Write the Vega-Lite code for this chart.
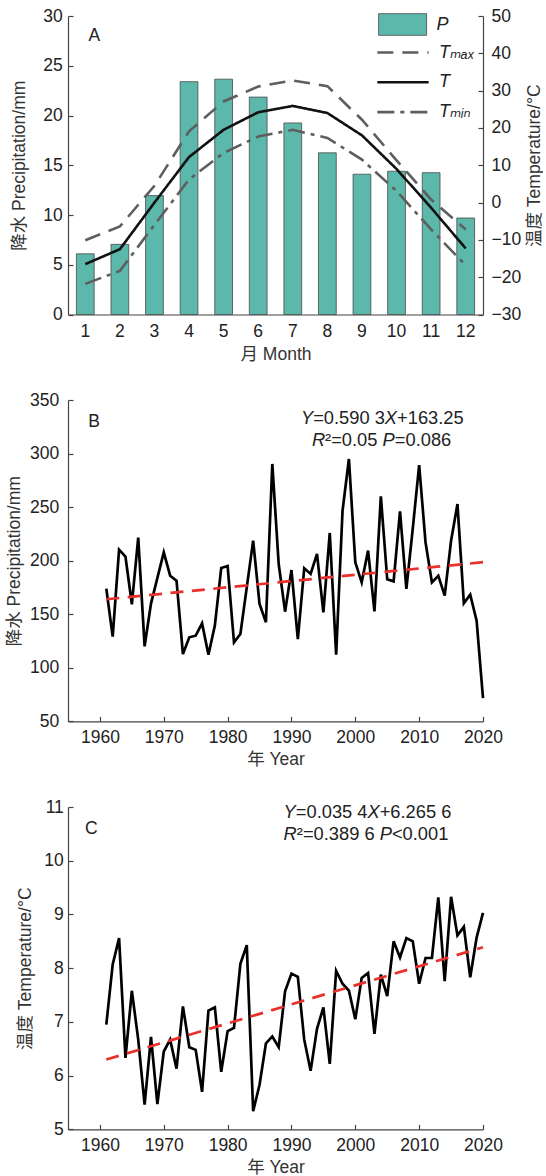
{
  "$schema": "https://vega.github.io/schema/vega-lite/v6.json",
  "padding": {"left": 5, "top": 7, "right": 0, "bottom": 0},
  "background": "white",
  "config": {
    "font": "Liberation Sans, DejaVu Sans, Noto Sans CJK SC, sans-serif",
    "view": {"stroke": null},
    "axis": {
      "grid": false,
      "domainColor": "#444444",
      "domainWidth": 1.2,
      "tickColor": "#444444",
      "tickWidth": 1.2,
      "tickSize": -5,
      "labelColor": "#222222",
      "labelFontSize": 17.5,
      "titleFontSize": 17.5,
      "titleFontWeight": "normal",
      "titleColor": "#333333",
      "labelFont": "Liberation Sans, DejaVu Sans, sans-serif",
      "titleFont": "Liberation Sans, Noto Sans CJK SC, sans-serif"
    },
    "text": {"font": "Liberation Sans, DejaVu Sans, sans-serif", "color": "#222222", "align": "left", "fontSize": 18.3}
  },
  "datasets": {
    "monthly": [
      {"month": 1, "P": 6.1}, {"month": 2, "P": 7.05}, {"month": 3, "P": 11.95},
      {"month": 4, "P": 23.4}, {"month": 5, "P": 23.65}, {"month": 6, "P": 21.85},
      {"month": 7, "P": 19.25}, {"month": 8, "P": 16.25}, {"month": 9, "P": 14.1},
      {"month": 10, "P": 14.4}, {"month": 11, "P": 14.25}, {"month": 12, "P": 9.7}
    ],
    "monthlyT": [
      {"month": 1, "series": "Tmax", "temp": -10.1}, {"month": 2, "series": "Tmax", "temp": -6.4},
      {"month": 3, "series": "Tmax", "temp": 4.5}, {"month": 4, "series": "Tmax", "temp": 19.1},
      {"month": 5, "series": "Tmax", "temp": 27.1}, {"month": 6, "series": "Tmax", "temp": 31.1},
      {"month": 7, "series": "Tmax", "temp": 32.7}, {"month": 8, "series": "Tmax", "temp": 31.2},
      {"month": 9, "series": "Tmax", "temp": 22.2}, {"month": 10, "series": "Tmax", "temp": 11.3},
      {"month": 11, "series": "Tmax", "temp": 0.8}, {"month": 12, "series": "Tmax", "temp": -7.2},
      {"month": 1, "series": "T", "temp": -16.5}, {"month": 2, "series": "T", "temp": -12.5},
      {"month": 3, "series": "T", "temp": 0.0}, {"month": 4, "series": "T", "temp": 12.2},
      {"month": 5, "series": "T", "temp": 19.5}, {"month": 6, "series": "T", "temp": 24.2},
      {"month": 7, "series": "T", "temp": 25.9}, {"month": 8, "series": "T", "temp": 24.0},
      {"month": 9, "series": "T", "temp": 18.0}, {"month": 10, "series": "T", "temp": 9.0},
      {"month": 11, "series": "T", "temp": -1.4}, {"month": 12, "series": "T", "temp": -12.3},
      {"month": 1, "series": "Tmin", "temp": -21.8}, {"month": 2, "series": "Tmin", "temp": -18.3},
      {"month": 3, "series": "Tmin", "temp": -6.0}, {"month": 4, "series": "Tmin", "temp": 6.2},
      {"month": 5, "series": "Tmin", "temp": 13.3}, {"month": 6, "series": "Tmin", "temp": 17.7},
      {"month": 7, "series": "Tmin", "temp": 19.5}, {"month": 8, "series": "Tmin", "temp": 17.3},
      {"month": 9, "series": "Tmin", "temp": 11.5}, {"month": 10, "series": "Tmin", "temp": 3.1},
      {"month": 11, "series": "Tmin", "temp": -7.2}, {"month": 12, "series": "Tmin", "temp": -16.8}
    ],
    "annual": [
      {"year": 1961, "P": 173.9, "T": 6.95}, {"year": 1962, "P": 129.1, "T": 8.07},
      {"year": 1963, "P": 210.3, "T": 8.56}, {"year": 1964, "P": 203.8, "T": 6.33},
      {"year": 1965, "P": 159.3, "T": 7.58}, {"year": 1966, "P": 221.5, "T": 6.67},
      {"year": 1967, "P": 120.1, "T": 5.46}, {"year": 1968, "P": 160.0, "T": 6.72},
      {"year": 1969, "P": 184.0, "T": 5.47}, {"year": 1970, "P": 207.8, "T": 6.45},
      {"year": 1971, "P": 186.0, "T": 6.67}, {"year": 1972, "P": 181.4, "T": 6.13},
      {"year": 1973, "P": 112.9, "T": 7.29}, {"year": 1974, "P": 128.5, "T": 6.53},
      {"year": 1975, "P": 130.0, "T": 6.48}, {"year": 1976, "P": 141.5, "T": 5.70},
      {"year": 1977, "P": 112.3, "T": 7.21}, {"year": 1978, "P": 139.4, "T": 7.27},
      {"year": 1979, "P": 193.2, "T": 6.07}, {"year": 1980, "P": 195.0, "T": 6.83},
      {"year": 1981, "P": 123.8, "T": 6.89}, {"year": 1982, "P": 131.6, "T": 8.08},
      {"year": 1983, "P": 175.1, "T": 8.43}, {"year": 1984, "P": 218.7, "T": 5.34},
      {"year": 1985, "P": 159.6, "T": 5.83}, {"year": 1986, "P": 142.5, "T": 6.60},
      {"year": 1987, "P": 290.3, "T": 6.73}, {"year": 1988, "P": 196.9, "T": 6.53},
      {"year": 1989, "P": 152.4, "T": 7.57}, {"year": 1990, "P": 191.3, "T": 7.90},
      {"year": 1991, "P": 126.9, "T": 7.84}, {"year": 1992, "P": 192.9, "T": 6.67},
      {"year": 1993, "P": 187.6, "T": 6.09}, {"year": 1994, "P": 206.3, "T": 6.87},
      {"year": 1995, "P": 151.8, "T": 7.27}, {"year": 1996, "P": 225.9, "T": 6.22},
      {"year": 1997, "P": 112.3, "T": 7.95}, {"year": 1998, "P": 246.7, "T": 7.71},
      {"year": 1999, "P": 294.9, "T": 7.58}, {"year": 2000, "P": 198.5, "T": 7.05},
      {"year": 2001, "P": 179.8, "T": 7.82}, {"year": 2002, "P": 209.4, "T": 7.91},
      {"year": 2003, "P": 152.7, "T": 6.78}, {"year": 2004, "P": 260.1, "T": 7.88},
      {"year": 2005, "P": 182.6, "T": 7.48}, {"year": 2006, "P": 180.7, "T": 8.50},
      {"year": 2007, "P": 246.1, "T": 8.20}, {"year": 2008, "P": 173.6, "T": 8.56},
      {"year": 2009, "P": 230.0, "T": 8.50}, {"year": 2010, "P": 289.3, "T": 7.71},
      {"year": 2011, "P": 217.1, "T": 8.19}, {"year": 2012, "P": 179.8, "T": 8.19},
      {"year": 2013, "P": 186.0, "T": 9.32}, {"year": 2014, "P": 167.4, "T": 7.76},
      {"year": 2015, "P": 218.7, "T": 9.33}, {"year": 2016, "P": 252.9, "T": 8.61},
      {"year": 2017, "P": 160.2, "T": 8.77}, {"year": 2018, "P": 168.3, "T": 7.83},
      {"year": 2019, "P": 144.0, "T": 8.57}, {"year": 2020, "P": 71.8, "T": 9.03}
    ],
    "trend": [
      {"year": 1961, "P": 164.0, "T": 6.30},
      {"year": 2020, "P": 198.6, "T": 8.39}
    ]
  },
  "spacing": 85,
  "bounds": "flush",
  "vconcat": [
    {
      "width": 415,
      "height": 298.5,
      "layer": [
        {
          "data": {"name": "monthly"},
          "mark": {"type": "bar", "stroke": "#4a4a4a", "strokeWidth": 0.8},
          "encoding": {
            "x": {
              "field": "month", "type": "ordinal",
              "scale": {"paddingInner": 0.486, "paddingOuter": 0.243},
              "axis": {"title": "月 Month", "labelAngle": 0, "ticks": false, "labelPadding": 7.8, "titleY": 31}
            },
            "y": {
              "field": "P", "type": "quantitative",
              "scale": {"domain": [0, 30], "nice": false},
              "axis": {"title": "降水 Precipitation/mm", "values": [0, 5, 10, 15, 20, 25, 30], "labelPadding": 10.7, "titleX": -39.6}
            },
            "fill": {
              "datum": "P", "type": "nominal",
              "scale": {"range": ["#5bb8ab"]},
              "legend": {
                "orient": "none", "legendX": 325.6, "legendY": -0.5, "title": null, "padding": 0,
                "symbolType": "M-4.8,-2.17H4.8V2.17H-4.8Z", "symbolSize": 100,
                "symbolStrokeColor": "#4a4a4a", "symbolStrokeWidth": 0.8, "symbolOpacity": 1,
                "labelOffset": 25, "labelFontSize": 18, "labelFontStyle": "italic", "labelColor": "#222222",
                "labelFont": "Liberation Sans, DejaVu Sans, sans-serif"
              }
            }
          }
        },
        {
          "data": {"name": "monthlyT"},
          "mark": {"type": "line", "strokeWidth": 2.6},
          "encoding": {
            "x": {"field": "month", "type": "ordinal"},
            "y": {
              "field": "temp", "type": "quantitative",
              "scale": {"domain": [-30, 50], "nice": false},
              "axis": {"orient": "right", "title": "温度 Temperature/°C", "values": [-30, -20, -10, 0, 10, 20, 30, 40, 50], "labelPadding": 13, "titleAngle": -90, "titleBaseline": "top", "titleX": 42.5}
            },
            "stroke": {
              "field": "series", "type": "nominal",
              "scale": {"domain": ["Tmax", "T", "Tmin"], "range": ["#5e5e5e", "#111111", "#5e5e5e"]},
              "legend": {
                "orient": "none", "legendX": 326, "legendY": 27.5, "title": null, "padding": 0,
                "symbolType": "M-5.13,0H5.13", "symbolSize": 100, "symbolStrokeWidth": 2.6,
                "labelOffset": 27, "labelFontSize": 18, "labelFontStyle": "italic", "labelColor": "#222222",
                "labelFont": "Liberation Sans, DejaVu Sans, sans-serif", "rowPadding": 11.8,
                "labelExpr": "datum.value == 'Tmax' ? 'Tₘₐₓ' : datum.value == 'Tmin' ? 'Tₘᵢₙ' : datum.value"
              }
            },
            "strokeDash": {
              "field": "series", "type": "nominal",
              "scale": {"domain": ["Tmax", "T", "Tmin"], "range": [[16, 9], [1, 0], [17, 6, 4, 6]]},
              "legend": {
                "orient": "none", "legendX": 326, "legendY": 27.5, "title": null, "padding": 0,
                "symbolType": "M-5.13,0H5.13", "symbolSize": 100, "symbolStrokeWidth": 2.6,
                "labelOffset": 27, "labelFontSize": 18, "labelFontStyle": "italic", "labelColor": "#222222",
                "labelFont": "Liberation Sans, DejaVu Sans, sans-serif", "rowPadding": 11.8,
                "labelExpr": "datum.value == 'Tmax' ? 'Tₘₐₓ' : datum.value == 'Tmin' ? 'Tₘᵢₙ' : datum.value"
              }
            }
          }
        },
        {
          "data": {"values": [{"label": "A"}]},
          "mark": {"type": "text", "fontSize": 17.5, "dx": 9, "align": "center"},
          "encoding": {
            "text": {"field": "label"},
            "x": {"datum": 1, "type": "ordinal"},
            "y": {"datum": 28, "type": "quantitative", "scale": {"domain": [0, 30], "nice": false}, "axis": null}
          }
        }
      ],
      "resolve": {"scale": {"y": "independent"}}
    },
    {
      "width": 415,
      "height": 321.4,
      "layer": [
        {
          "data": {"name": "annual"},
          "mark": {"type": "line", "color": "#000000", "strokeWidth": 2.7},
          "encoding": {
            "x": {
              "field": "year", "type": "quantitative",
              "scale": {"domain": [1955, 2020], "nice": false, "zero": false},
              "axis": {"title": "年 Year", "values": [1960, 1970, 1980, 1990, 2000, 2010, 2020], "format": "d", "labelFlush": false, "labelPadding": 12.5, "titleY": 29.5}
            },
            "y": {
              "field": "P", "type": "quantitative",
              "scale": {"domain": [50, 350], "nice": false, "zero": false},
              "axis": {"title": "降水 Precipitation/mm", "values": [50, 100, 150, 200, 250, 300, 350], "format": "d", "labelPadding": 14.2, "titleX": -44.1}
            }
          }
        },
        {
          "data": {"name": "trend"},
          "mark": {"type": "line", "color": "#e8312a", "strokeWidth": 2.7, "strokeDash": [13, 8.5]},
          "encoding": {
            "x": {"field": "year", "type": "quantitative"},
            "y": {"field": "P", "type": "quantitative"}
          }
        },
        {
          "data": {"values": [{"label": "B"}]},
          "mark": {"type": "text", "fontSize": 17.5, "align": "center"},
          "encoding": {"text": {"field": "label"}, "x": {"datum": 1959.1}, "y": {"datum": 329.5}}
        },
        {"data": {"values": [{"s": "Y"}]}, "mark": {"type": "text", "fontStyle": "italic"},
         "encoding": {"text": {"field": "s"}, "x": {"datum": 1991.49}, "y": {"datum": 332.3}}},
        {"data": {"values": [{"s": "=0.590 3"}]}, "mark": {"type": "text"},
         "encoding": {"text": {"field": "s"}, "x": {"datum": 1993.40}, "y": {"datum": 332.3}}},
        {"data": {"values": [{"s": "X"}]}, "mark": {"type": "text", "fontStyle": "italic"},
         "encoding": {"text": {"field": "s"}, "x": {"datum": 2004.63}, "y": {"datum": 332.3}}},
        {"data": {"values": [{"s": "+163.25"}]}, "mark": {"type": "text"},
         "encoding": {"text": {"field": "s"}, "x": {"datum": 2006.54}, "y": {"datum": 332.3}}},
        {"data": {"values": [{"s": "R"}]}, "mark": {"type": "text", "fontStyle": "italic"},
         "encoding": {"text": {"field": "s"}, "x": {"datum": 1993.20}, "y": {"datum": 312.0}}},
        {"data": {"values": [{"s": "²=0.05"}]}, "mark": {"type": "text"},
         "encoding": {"text": {"field": "s"}, "x": {"datum": 1995.27}, "y": {"datum": 312.0}}},
        {"data": {"values": [{"s": "P"}]}, "mark": {"type": "text", "fontStyle": "italic"},
         "encoding": {"text": {"field": "s"}, "x": {"datum": 2004.27}, "y": {"datum": 312.0}}},
        {"data": {"values": [{"s": "=0.086"}]}, "mark": {"type": "text"},
         "encoding": {"text": {"field": "s"}, "x": {"datum": 2006.19}, "y": {"datum": 312.0}}}
      ]
    },
    {
      "width": 415,
      "height": 322.4,
      "layer": [
        {
          "data": {"name": "annual"},
          "mark": {"type": "line", "color": "#000000", "strokeWidth": 2.7},
          "encoding": {
            "x": {
              "field": "year", "type": "quantitative",
              "scale": {"domain": [1955, 2020], "nice": false, "zero": false},
              "axis": {"title": "年 Year", "values": [1960, 1970, 1980, 1990, 2000, 2010, 2020], "format": "d", "labelFlush": false, "labelPadding": 12.5, "titleY": 29.5}
            },
            "y": {
              "field": "T", "type": "quantitative",
              "scale": {"domain": [5, 11], "nice": false, "zero": false},
              "axis": {"title": "温度 Temperature/°C", "values": [5, 6, 7, 8, 9, 10, 11], "format": "d", "labelPadding": 9.7, "titleX": -33.7}
            }
          }
        },
        {
          "data": {"name": "trend"},
          "mark": {"type": "line", "color": "#e8312a", "strokeWidth": 2.7, "strokeDash": [13, 8.5]},
          "encoding": {
            "x": {"field": "year", "type": "quantitative"},
            "y": {"field": "T", "type": "quantitative"}
          }
        },
        {
          "data": {"values": [{"label": "C"}]},
          "mark": {"type": "text", "fontSize": 17.5, "align": "center"},
          "encoding": {"text": {"field": "label"}, "x": {"datum": 1958.66}, "y": {"datum": 10.585}}
        },
        {"data": {"values": [{"s": "Y"}]}, "mark": {"type": "text", "fontStyle": "italic"},
         "encoding": {"text": {"field": "s"}, "x": {"datum": 1988.77}, "y": {"datum": 10.888}}},
        {"data": {"values": [{"s": "=0.035 4"}]}, "mark": {"type": "text"},
         "encoding": {"text": {"field": "s"}, "x": {"datum": 1990.68}, "y": {"datum": 10.888}}},
        {"data": {"values": [{"s": "X"}]}, "mark": {"type": "text", "fontStyle": "italic"},
         "encoding": {"text": {"field": "s"}, "x": {"datum": 2001.91}, "y": {"datum": 10.888}}},
        {"data": {"values": [{"s": "+6.265 6"}]}, "mark": {"type": "text"},
         "encoding": {"text": {"field": "s"}, "x": {"datum": 2003.82}, "y": {"datum": 10.888}}},
        {"data": {"values": [{"s": "R"}]}, "mark": {"type": "text", "fontStyle": "italic"},
         "encoding": {"text": {"field": "s"}, "x": {"datum": 1988.77}, "y": {"datum": 10.486}}},
        {"data": {"values": [{"s": "²=0.389 6"}]}, "mark": {"type": "text"},
         "encoding": {"text": {"field": "s"}, "x": {"datum": 1990.84}, "y": {"datum": 10.486}}},
        {"data": {"values": [{"s": "P"}]}, "mark": {"type": "text", "fontStyle": "italic"},
         "encoding": {"text": {"field": "s"}, "x": {"datum": 2003.82}, "y": {"datum": 10.486}}},
        {"data": {"values": [{"s": "<0.001"}]}, "mark": {"type": "text"},
         "encoding": {"text": {"field": "s"}, "x": {"datum": 2005.73}, "y": {"datum": 10.486}}}
      ]
    }
  ]
}
